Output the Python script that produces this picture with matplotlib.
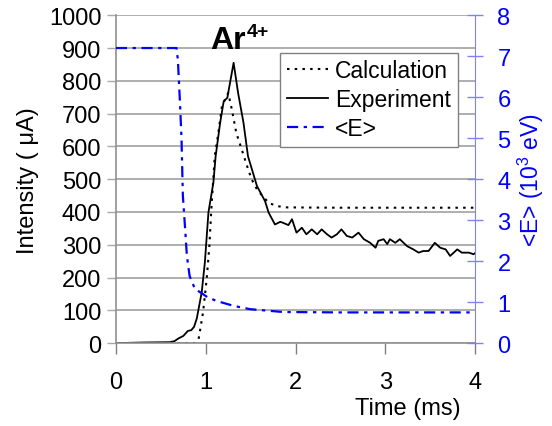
import matplotlib
matplotlib.use('Agg')
import matplotlib.pyplot as plt

plt.rcParams['font.family'] = ['Liberation Sans', 'DejaVu Sans']
plt.rcParams['mathtext.fontset'] = 'custom'
plt.rcParams['mathtext.rm'] = 'Liberation Sans'

# experiment (intensity, uA)
exp_t = [0, 0.3, 0.6, 0.65, 0.7, 0.75, 0.8, 0.84, 0.87, 0.9, 0.955, 0.99, 1.03,
         1.085, 1.11, 1.16, 1.2, 1.24, 1.31, 1.36, 1.42, 1.47, 1.57, 1.66, 1.7,
         1.77, 1.83, 1.86, 1.92, 1.96, 2.01, 2.07, 2.12, 2.18, 2.24, 2.29, 2.35,
         2.40, 2.46, 2.51, 2.57, 2.63, 2.70, 2.76, 2.83, 2.89, 2.92, 2.98, 3.02,
         3.05, 3.11, 3.16, 3.24, 3.31, 3.37, 3.42, 3.48, 3.55, 3.61, 3.67, 3.72,
         3.76, 3.80, 3.85, 3.93, 3.98, 4.0]
exp_i = [0, 2, 3, 6, 15, 22, 37, 40, 50, 75, 155, 246, 399,
         490, 570, 672, 738, 748, 855, 763, 672, 570, 479, 433, 398,
         362, 370, 367, 360, 378, 337, 352, 332, 347, 332, 347, 332,
         322, 332, 347, 327, 322, 337, 317, 306, 291, 312, 317, 302,
         317, 306, 317, 296, 286, 276, 281, 281, 306, 291, 286, 266,
         276, 286, 276, 276, 271, 275]

# calculation (intensity, uA)
calc_t = [0, 0.88, 0.92, 0.97, 1.01, 1.04, 1.06, 1.10, 1.14, 1.18, 1.25, 1.29,
          1.34, 1.40, 1.46, 1.51, 1.57, 1.60, 1.70, 1.79, 1.9, 2.5, 4.0]
calc_i = [0, 0, 12, 94, 195, 296, 398, 570, 641, 723, 763, 713,
          641, 591, 540, 500, 469, 459, 428, 418, 414, 413, 413]

# mean energy <E> (10^3 eV)
e_t = [0, 0.675, 0.69, 0.71, 0.73, 0.745, 0.77, 0.79, 0.82, 0.88, 0.94, 1.02,
       1.12, 1.31, 1.49, 1.86, 2.5, 3.95]
e_v = [7.2, 7.2, 6.9, 6.0, 5.0, 3.6, 2.8, 2.13, 1.64, 1.32, 1.24, 1.12,
       1.03, 0.91, 0.83, 0.76, 0.75, 0.75]

fig = plt.figure(figsize=(5.52, 4.27), dpi=100)
ax = fig.add_axes([0.210, 0.194, 0.651, 0.768])
ax2 = ax.twinx()

ax.plot(calc_t, calc_i, color='black', linestyle=(0, (1.2, 2.5)), lw=1.5, label='Calculation')
ax.plot(exp_t, exp_i, color='black', lw=1.3, label='Experiment')
e_line, = ax2.plot(e_t, e_v, color='#0000ff', lw=1.6, linestyle=(0, (5, 2.5, 1.5, 2.5)), label='<E>')

ax.set_xlim(0, 4)
ax.set_ylim(0, 1000)
ax.set_xticks([0, 1, 2, 3, 4])
ax.set_yticks(range(0, 1001, 100))
ax.yaxis.grid(True, color='#a8a8a8', lw=1.3)
ax.set_axisbelow(True)
ax.tick_params(axis='x', direction='out', length=8, width=1, color='#808080',
               labelsize=17, pad=12)
ax.tick_params(axis='y', direction='out', length=6.5, width=1, color='#a8a8a8',
               labelsize=17, pad=4)
for s in ['top', 'right']:
    ax.spines[s].set_visible(False)
for s in ['left', 'bottom']:
    ax.spines[s].set_color('#909090')
    ax.spines[s].set_linewidth(1.2)

ax2.set_ylim(0, 8)
ax2.set_yticks(range(0, 9))
ax2.tick_params(axis='y', direction='inout', length=12, width=1, color='#8080ff',
                labelcolor='#0000ff', labelsize=17, pad=10)
for s in ['top', 'left', 'bottom']:
    ax2.spines[s].set_visible(False)
ax2.spines['right'].set_color('#8080ff')

ax.set_ylabel('Intensity ( \u03bcA)', fontsize=17, labelpad=7)
ax2.set_ylabel('<E> (10$^3$ eV)', fontsize=16.5, color='#0000ff', rotation=90, labelpad=4)
ax.set_xlabel('Time (ms)', fontsize=17)
ax.xaxis.set_label_coords(0.813, -0.165)

# ion label: "Ar" with a separate superscript "4+"
ar = ax.text(1.05, 1000 - 100, 'Ar', fontsize=23, fontweight='bold', va='baseline', ha='left')
ax.annotate('4+', xy=(1, 0.62), xycoords=ar, xytext=(0.5, 0), textcoords='offset points',
            fontsize=14, fontweight='bold', va='baseline', ha='left')

handles = ax.get_lines() + [e_line]
leg = ax.legend(handles=handles, labels=[h.get_label() for h in handles],
                loc='upper left', bbox_to_anchor=(0.457, 0.886), fontsize=16.5,
                frameon=True, fancybox=False, framealpha=1, edgecolor='#808080',
                handlelength=1.8, handletextpad=0.3, labelspacing=0.25,
                borderpad=0.3, borderaxespad=0)
leg.get_frame().set_linewidth(1.0)
leg.set_zorder(10)

fig.savefig('out.png', dpi=100)
